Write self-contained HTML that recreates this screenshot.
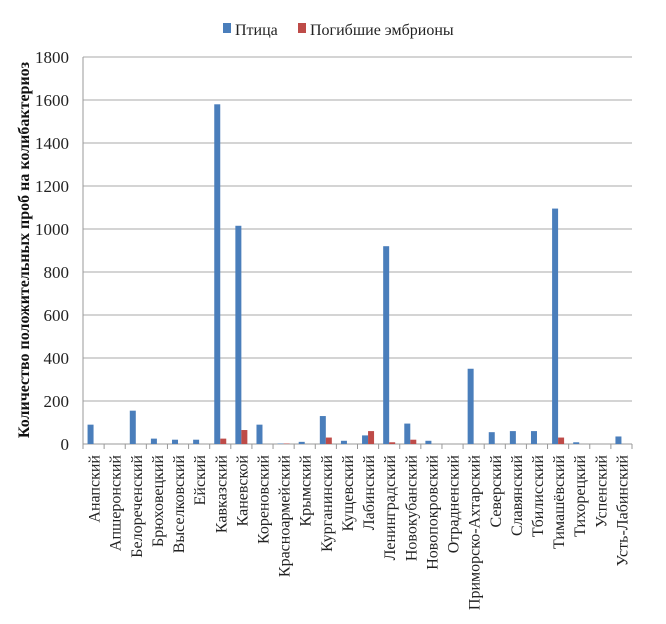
<!DOCTYPE html>
<html><head><meta charset="utf-8"><style>
body{margin:0;background:#fff;}
svg{display:block;font-family:"Liberation Serif","DejaVu Serif",serif;}
</style></head><body>
<svg id="chart" width="666" height="624" viewBox="0 0 666 624">
<g>
<rect x="223" y="23" width="8" height="10" fill="#4a7ebb"/>
<text x="235" y="35" font-size="16" fill="#222">Птица</text>
<rect x="298" y="23" width="8" height="10" fill="#be4b48"/>
<text x="310" y="35" font-size="16" fill="#222">Погибшие эмбрионы</text>
</g>
<text transform="translate(29,250) rotate(-90)" text-anchor="middle" font-size="16" font-weight="bold" fill="#111">Количество положительных проб на колибактериоз</text>
<g id="grid"></g><g id="bars"></g><g id="xaxis"></g>
</svg>
<script>
const categories=["Анапский","Апшеронский","Белореченский","Брюховецкий","Выселковский","Ейский","Кавказский","Каневской","Кореновский","Красноармейский","Крымский","Курганинский","Кущевский","Лабинский","Ленинградский","Новокубанский","Новопокровский","Отрадненский","Приморско-Ахтарский","Северский","Славянский","Тбилисский","Тимашёвский","Тихорецкий","Успенский","Усть-Лабинский"];
const birdValues=[90,0,155,25,20,20,1580,1015,90,2,10,130,15,40,920,95,15,0,350,55,60,60,1095,8,0,35];
const embryoValues=[0,0,0,0,0,0,25,65,0,2,0,30,0,60,8,20,0,0,0,0,0,0,30,0,0,0];
const yTicks=[0,200,400,600,800,1000,1200,1400,1600,1800];
const NS="http://www.w3.org/2000/svg";
const x0=83,x1=632,y0=444,yTop=57,yMax=1800;
const bw=(x1-x0)/categories.length;
function yScale(v){return y0-(v/yMax)*(y0-yTop);}
function xScale(i){return x0+i*bw;}
function mk(tag,attrs,parent){const e=document.createElementNS(NS,tag);for(const k in attrs)e.setAttribute(k,attrs[k]);parent.appendChild(e);return e;}
const grid=document.getElementById('grid'),bars=document.getElementById('bars'),xa=document.getElementById('xaxis');
yTicks.forEach(t=>{
 const y=yScale(t);
 const l=mk('line',{x1:x0,x2:x1,y1:y,y2:y,stroke:t===0?'#999':'#aaa','stroke-width':1},grid);
 
 
 const tx=mk('text',{x:x0-14,y:y+6,'text-anchor':'end','font-size':17,fill:'#222'},grid);
 tx.textContent=t;
 
 
});
const ax=mk('line',{x1:x0,x2:x0,y1:yTop,y2:y0,stroke:'#999'},grid);


categories.forEach((c,i)=>{
 const cx=xScale(i);
 const b=mk('rect',{x:cx+bw/2-6,y:yScale(birdValues[i]),width:6,height:y0-yScale(birdValues[i]),fill:'#4a7ebb'},bars);
 
 
 const r=mk('rect',{x:cx+bw/2,y:yScale(embryoValues[i]),width:6,height:y0-yScale(embryoValues[i]),fill:'#be4b48'},bars);
 
 
 const tk=mk('line',{x1:cx,x2:cx,y1:y0,y2:y0+5,stroke:'#999'},xa);
 
 
 const t=mk('text',{transform:'translate('+(cx+bw/2+6)+','+(y0+11)+') rotate(-90)','text-anchor':'end','font-size':16,fill:'#222'},xa);
 t.textContent=c;
 
 
});
const tkEnd=mk('line',{x1:x1,x2:x1,y1:y0,y2:y0+5,stroke:'#999'},xa);


</script>
</body></html>
